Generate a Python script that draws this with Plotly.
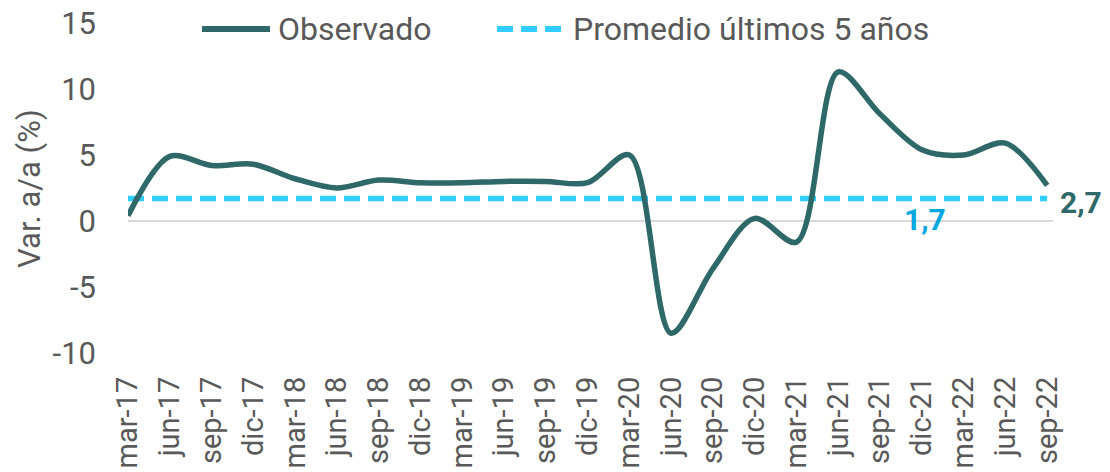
import plotly.graph_objects as go

categorias = ["mar-17", "jun-17", "sep-17", "dic-17", "mar-18", "jun-18", "sep-18", "dic-18",
              "mar-19", "jun-19", "sep-19", "dic-19", "mar-20", "jun-20", "sep-20", "dic-20",
              "mar-21", "jun-21", "sep-21", "dic-21", "mar-22", "jun-22", "sep-22"]
observado = [0.4, 4.9, 4.2, 4.3, 3.2, 2.5, 3.1, 2.9, 2.9, 3.0, 3.0, 2.9, 5.0, -8.5, -3.6, 0.2,
             -1.6, 11.3, 8.1, 5.4, 5.0, 5.9, 2.7]
promedio = 1.7
y_ticks = [-10, -5, 0, 5, 10, 15]

TEAL = "#2F6868"
CYAN = "#33CCFF"
CYAN_TXT = "#00A8E1"
GREY = "#595959"
FONT = "Roboto"

# the page body margin is removed (post_script below), so figure pixels = page pixels
W, H = 1110, 472
PX0, PX1 = 128, 1053   # plot area left/right
PY0, PY1 = 23, 353     # plot area top/bottom
L, R = PX0, W - PX1
T, B = PY0, H - PY1
pw = PX1 - PX0
ph = PY1 - PY0

def px_x(p):
    return (p - PX0) / pw

def px_y(p):
    return (PY1 - p) / ph

fig = go.Figure()
fig.add_trace(go.Scatter(
    x=[categorias[0], categorias[-1]], y=[promedio, promedio], mode="lines",
    line=dict(color=CYAN, width=5.5, dash="16px,8px"), name="Promedio últimos 5 años",
    showlegend=False, hoverinfo="skip"))
fig.add_trace(go.Scatter(
    x=categorias, y=observado, mode="lines",
    line=dict(color=TEAL, width=5.5, shape="spline", smoothing=0.9), name="Observado",
    showlegend=False))

fmt = lambda v: f"{v:.1f}".replace(".", ",")

fig.add_annotation(x=categorias[-1], y=observado[-1], text=f"<b>{fmt(observado[-1])}</b>",
                   showarrow=False, xanchor="left", xshift=11, yshift=-17,
                   font=dict(family=FONT, size=30, color=TEAL))
fig.add_annotation(x=categorias[19], y=promedio, text=f"<b>{fmt(promedio)}</b>",
                   showarrow=False, xanchor="center", xshift=3, yshift=-21,
                   font=dict(family=FONT, size=30, color=CYAN_TXT))

# legend drawn manually (long symbols like the reference)
ly = px_y(29)
fig.add_shape(type="line", xref="paper", yref="paper", x0=px_x(202), x1=px_x(270), y0=ly, y1=ly,
              line=dict(color=TEAL, width=6))
fig.add_annotation(xref="paper", yref="paper", x=px_x(276), y=ly, text="Observado",
                   showarrow=False, xanchor="left", yanchor="middle",
                   font=dict(family=FONT, size=32, color=GREY))
fig.add_shape(type="line", xref="paper", yref="paper", x0=px_x(497), x1=px_x(561), y0=ly, y1=ly,
              line=dict(color=CYAN, width=6, dash="16px,8px"))
fig.add_annotation(xref="paper", yref="paper", x=px_x(571), y=ly, text="Promedio últimos 5 años",
                   showarrow=False, xanchor="left", yanchor="middle",
                   font=dict(family=FONT, size=32, color=GREY))

fig.update_layout(
    width=W, height=H,
    margin=dict(l=L, r=R, t=T, b=B, autoexpand=False),
    paper_bgcolor="white", plot_bgcolor="white",
    font=dict(family=FONT, color=GREY),
    showlegend=False,
    xaxis=dict(type="category", categoryorder="array", categoryarray=categorias,
               range=[0, len(categorias) - 1 + 0.14], showgrid=False, zeroline=False,
               showline=False, ticks="", tickangle=-90, ticklabelstandoff=17,
               ticklabeloverflow="allow",
               tickfont=dict(family=FONT, size=29, color=GREY)),
    yaxis=dict(range=[-10, 15], tickvals=y_ticks, ticktext=[str(v) for v in y_ticks],
               showgrid=False, zeroline=True, zerolinecolor="#D9D9D9", zerolinewidth=1.5,
               showline=False, ticks="", ticklabelstandoff=31, ticklabeloverflow="allow",
               tickfont=dict(family=FONT, size=31, color=GREY)),
)

fig.add_annotation(xref="paper", yref="paper", x=px_x(29), y=px_y(189), text="Var. a/a (%)",
                   textangle=-90, showarrow=False, xanchor="center", yanchor="middle",
                   font=dict(family=FONT, size=31, color=GREY))

fig.write_html("out.html", config={"displayModeBar": False},
               post_script="document.body.style.margin='0';document.body.style.overflow='hidden';")
